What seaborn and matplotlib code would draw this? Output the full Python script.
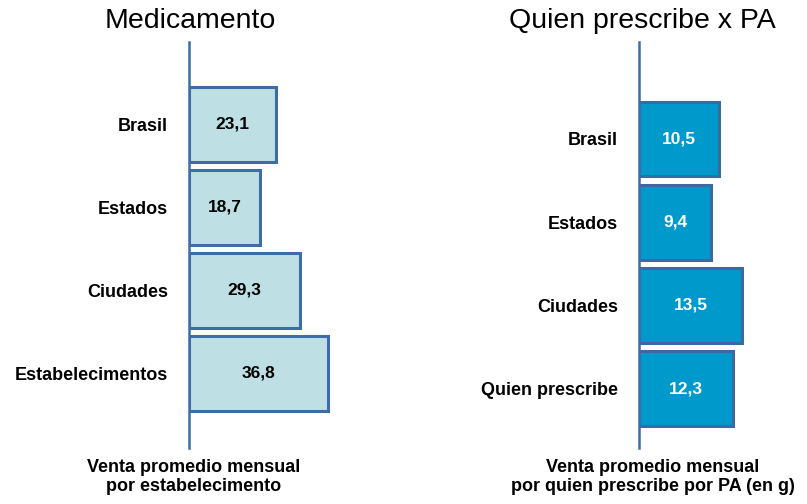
import matplotlib
matplotlib.use("Agg")
import matplotlib.pyplot as plt
import seaborn as sns

categorias_med = ["Brasil", "Estados", "Ciudades", "Estabelecimentos"]
valores_med = [23.1, 18.7, 29.3, 36.8]

categorias_pa = ["Brasil", "Estados", "Ciudades", "Quien prescribe"]
valores_pa = [10.5, 9.4, 13.5, 12.3]

titulo_med = "Medicamento"
titulo_pa = "Quien prescribe x PA"
etiqueta_med = "Venta promedio mensual\npor estabelecimento"
etiqueta_pa = "Venta promedio mensual\npor quien prescribe por PA (en g)"

W, H = 807, 504


def px_axes(fig, left, top, width, bottom):
    return fig.add_axes([left / W, 1 - bottom / H, width / W, (bottom - top) / H])


def dibujar(ax, cats, vals, fill, edge, txt_color, xmax, ylim):
    sns.barplot(x=vals, y=cats, orient="h", color=fill, saturation=1,
                edgecolor=edge, linewidth=2.2, width=0.9, ax=ax)
    ax.set_xlim(0, xmax)
    ax.set_ylim(*ylim)
    for s in ["top", "right", "bottom"]:
        ax.spines[s].set_visible(False)
    ax.spines["left"].set_color("#3C6DA4")
    ax.spines["left"].set_linewidth(1.8)
    ax.set_xticks([])
    ax.tick_params(axis="y", length=0, pad=15, labelcolor="black")
    for lab in ax.get_yticklabels():
        lab.set_fontweight("bold")
        lab.set_fontsize(13)
    ax.set_xlabel("")
    ax.set_ylabel("")
    for i, v in enumerate(vals):
        ax.text(v / 2, i, f"{v:.1f}".replace(".", ","), ha="center", va="center",
                fontsize=12.5, fontweight="bold", color=txt_color)


def main():
    sns.set_style("white")
    plt.rcParams["font.family"] = ["Liberation Sans", "DejaVu Sans"]
    plt.rcParams["text.color"] = "black"

    fig = plt.figure(figsize=(W / 100, H / 100), dpi=100)

    ax1 = px_axes(fig, 189, 42, 189, 448)
    dibujar(ax1, categorias_med, valores_med, "#BEE0E4", "#3C6DA4", "black",
            50, (3.898, -0.994))

    ax2 = px_axes(fig, 639, 42, 153, 448)
    dibujar(ax2, categorias_pa, valores_pa, "#0099CC", "#3A6A9F", "white",
            20, (3.715, -1.166))

    fig.text(190 / W, 1 - 21 / H, titulo_med, ha="center", va="center", fontsize=20.5)
    fig.text(642 / W, 1 - 21 / H, titulo_pa, ha="center", va="center", fontsize=20.5)

    fig.text(194 / W, 1 - 477 / H, etiqueta_med, ha="center", va="center",
             fontsize=13, fontweight="bold", linespacing=1.2)
    fig.text(653 / W, 1 - 477 / H, etiqueta_pa, ha="center", va="center",
             fontsize=13, fontweight="bold", linespacing=1.2)

    fig.savefig("out.png", dpi=100)


if __name__ == "__main__":
    main()
